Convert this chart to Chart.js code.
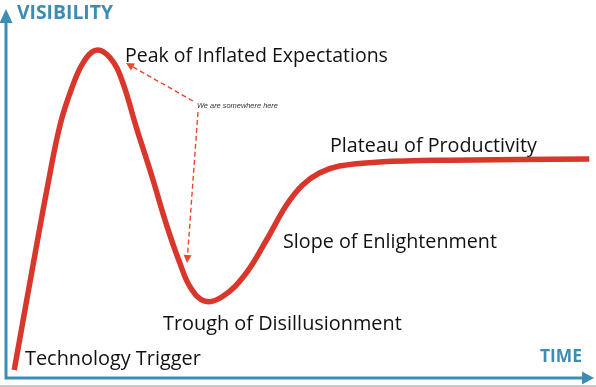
<!DOCTYPE html>
<html>
<head>
<meta charset="utf-8">
<script src="https://cdn.jsdelivr.net/npm/chart.js@4"></script>
<style>
html,body{margin:0;padding:0;background:#fff;}
#wrap{width:596px;height:387px;position:relative;}
</style>
</head>
<body>
<div id="wrap"><canvas id="c" width="596" height="387"></canvas></div>
<script>
// Hype cycle curve (time 0-100, visibility 0-100)
const timeValues = [1.4, 4.6, 7.1, 9.2, 11.2, 13.2, 15.4, 17.7, 19.7, 22.2, 24.8, 27.3, 29.5, 31.4, 33.8, 36.7, 40.6, 44.3, 47.7, 50.4, 53.3, 56.7, 63.5, 75.4, 99.2];
const visibilityValues = [2.2, 30.7, 52.4, 68.8, 78.8, 85.9, 89.1, 87.0, 81.0, 67.9, 54.9, 41.6, 31.5, 24.5, 20.9, 22.0, 28.0, 37.5, 47.0, 52.4, 55.7, 57.6, 58.7, 59.2, 59.5];
const axisTitles = ["VISIBILITY", "TIME"];
const phaseLabels = ["Peak of Inflated Expectations", "Plateau of Productivity", "Slope of Enlightenment", "Trough of Disillusionment", "Technology Trigger"];
const noteLabel = "We are somewhere here";

const points = timeValues.map((t, i) => ({x: t, y: visibilityValues[i]}));

const BLUE = '#3b8db3';
const RED = '#d9362c';

function fitText(ctx, text, x, baseline, width, weight, family, style) {
  let size = 20;
  ctx.font = `${style||''} ${weight} ${size}px ${family}`;
  const w = ctx.measureText(text).width;
  size = size * width / w;
  ctx.font = `${style||''} ${weight} ${size}px ${family}`;
  ctx.textBaseline = 'alphabetic';
  ctx.textAlign = 'left';
  ctx.fillText(text, x, baseline);
}

function dashedArrow(ctx, x1, y1, x2, y2) {
  ctx.save();
  ctx.strokeStyle = '#e8482f';
  ctx.fillStyle = '#e8482f';
  ctx.lineWidth = 1.4;
  ctx.setLineDash([5, 3]);
  const ang = Math.atan2(y2 - y1, x2 - x1);
  const hl = 8;
  ctx.beginPath();
  ctx.moveTo(x1, y1);
  ctx.lineTo(x2 - Math.cos(ang) * hl, y2 - Math.sin(ang) * hl);
  ctx.stroke();
  ctx.setLineDash([]);
  ctx.beginPath();
  ctx.moveTo(x2, y2);
  ctx.lineTo(x2 - Math.cos(ang) * hl + Math.sin(ang) * 4, y2 - Math.sin(ang) * hl - Math.cos(ang) * 4);
  ctx.lineTo(x2 - Math.cos(ang) * hl - Math.sin(ang) * 4, y2 - Math.sin(ang) * hl + Math.cos(ang) * 4);
  ctx.closePath();
  ctx.fill();
  ctx.restore();
}

const decor = {
  id: 'decor',
  beforeDraw(chart) {
    const ctx = chart.ctx;
    ctx.save();
    ctx.fillStyle = '#fff';
    ctx.fillRect(0, 0, chart.width, chart.height);
    ctx.fillStyle = '#c8c8c8';
    ctx.fillRect(0, 385, chart.width, 2);
    ctx.restore();
  },
  afterDraw(chart) {
    const ctx = chart.ctx;
    const a = chart.chartArea;
    const x0 = a.left, y0 = a.bottom;
    ctx.save();
    ctx.strokeStyle = BLUE;
    ctx.fillStyle = BLUE;
    ctx.lineWidth = 3;
    ctx.beginPath();
    ctx.moveTo(x0, a.top + 10);
    ctx.lineTo(x0, y0);
    ctx.lineTo(a.right - 10, y0);
    ctx.stroke();
    ctx.beginPath();
    ctx.moveTo(x0, a.top - 1);
    ctx.lineTo(x0 - 6.5, a.top + 13);
    ctx.lineTo(x0 + 6.5, a.top + 13);
    ctx.closePath();
    ctx.fill();
    ctx.beginPath();
    ctx.moveTo(a.right, y0);
    ctx.lineTo(a.right - 12, y0 - 6.5);
    ctx.lineTo(a.right - 12, y0 + 6.5);
    ctx.closePath();
    ctx.fill();
    ctx.fillStyle = BLUE;
    fitText(ctx, axisTitles[0], 17, 19, 96, 'bold', '"Open Sans"');
    fitText(ctx, axisTitles[1], 540, 362, 42, 'bold', '"Open Sans"');
    ctx.fillStyle = '#111';
    fitText(ctx, phaseLabels[0], 125, 62, 263, 'normal', '"Open Sans"');
    fitText(ctx, phaseLabels[1], 330, 152, 207, 'normal', '"Open Sans"');
    fitText(ctx, phaseLabels[2], 283, 248, 214, 'normal', '"Open Sans"');
    fitText(ctx, phaseLabels[3], 163, 330, 239, 'normal', '"Open Sans"');
    fitText(ctx, phaseLabels[4], 25, 365, 176, 'normal', '"Open Sans"');
    ctx.fillStyle = '#333';
    fitText(ctx, noteLabel, 197, 108, 81, 'normal', '"Liberation Sans"', 'italic');
    dashedArrow(ctx, 193, 101, 126, 63);
    dashedArrow(ctx, 198, 112, 187, 263);
    ctx.restore();
  }
};

new Chart(document.getElementById('c'), {
  type: 'scatter',
  data: {
    datasets: [{
      data: points,
      showLine: true,
      borderColor: RED,
      borderWidth: 5.5,
      pointRadius: 0,
      tension: 0.4,
      borderCapStyle: 'butt',
      borderJoinStyle: 'round',
      fill: false
    }]
  },
  options: {
    responsive: false,
    animation: false,
    layout: {padding: {left: 6, right: 2, top: 10, bottom: 9}},
    plugins: {legend: {display: false}, tooltip: {enabled: false}},
    scales: {
      x: {type: 'linear', min: 0, max: 100, display: false},
      y: {type: 'linear', min: 0, max: 100, display: false}
    }
  },
  plugins: [decor]
});
</script>
</body>
</html>
